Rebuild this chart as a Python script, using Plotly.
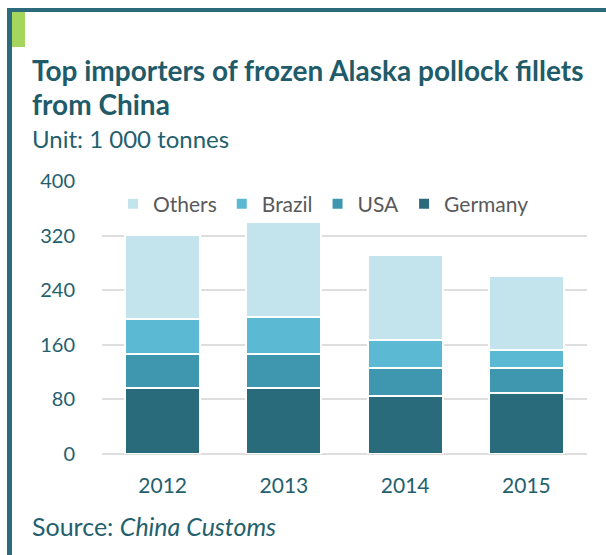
import plotly.graph_objects as go

# Imports of frozen Alaska pollock fillets from China, thousand tonnes
years = ["2012", "2013", "2014", "2015"]
germany = [97, 97, 85, 89]
usa = [50, 50, 41, 37]
brazil = [51, 54, 41, 27]
others = [123, 139, 124, 108]

y_ticks = [0, 80, 160, 240, 320, 400]

series = [
    ("Germany", germany, "#2a6b7b"),
    ("USA", usa, "#3e97ae"),
    ("Brazil", brazil, "#5cb9d3"),
    ("Others", others, "#c4e4ed"),
]

W, H = 606, 555
M_L, M_R, M_T, M_B = 102, 19, 181, 101
PW, PH = W - M_L - M_R, H - M_T - M_B


def px(x):
    return (x - M_L) / PW


def py(y):
    return (H - M_B - y) / PH


TEAL = "#245f6e"
FONT = "Lato"

fig = go.Figure()
for name, vals, color in series:
    fig.add_trace(go.Bar(
        x=years, y=vals, name=name,
        marker=dict(color=color, line=dict(color="white", width=2)),
    ))

fig.update_layout(
    width=W, height=H,
    margin=dict(l=M_L, r=M_R, t=M_T, b=M_B),
    barmode="stack", bargap=0.38,
    plot_bgcolor="white", paper_bgcolor="white",
    font=dict(family=FONT, color=TEAL, size=20),
    showlegend=True,
    legend=dict(
        orientation="h", traceorder="reversed",
        x=px(113), xanchor="left", y=py(204), yanchor="middle",
        font=dict(family=FONT, size=21, color="#595959"),
        bgcolor="rgba(0,0,0,0)", itemclick=False,
    ),
    xaxis=dict(
        showgrid=False, showline=False, ticks="",
        ticklabelstandoff=17,
        tickfont=dict(family=FONT, size=21, color=TEAL),
    ),
    yaxis=dict(
        range=[0, 400], tickvals=y_ticks,
        showgrid=True, gridcolor="#dedede", gridwidth=2,
        zeroline=True, zerolinecolor="#dedede", zerolinewidth=2,
        showline=False, ticks="", ticklabelstandoff=26,
        tickfont=dict(family=FONT, size=20, color=TEAL),
    ),
)

# Frame: top and left rules plus the green corner tab
fig.add_shape(type="rect", xref="paper", yref="paper",
              x0=px(7), x1=px(606), y0=py(12), y1=py(8),
              fillcolor="#2b6b7b", line_width=0, layer="above")
fig.add_shape(type="rect", xref="paper", yref="paper",
              x0=px(7), x1=px(12), y0=py(555), y1=py(8),
              fillcolor="#2b6b7b", line_width=0, layer="above")
fig.add_shape(type="rect", xref="paper", yref="paper",
              x0=px(12), x1=px(25), y0=py(47), y1=py(12),
              fillcolor="#a4d65e", line_width=0, layer="above")

# Two-line title, one annotation per line for tight leading
title_lines = ["Top importers of frozen Alaska pollock fillets", "from China"]
for i, line in enumerate(title_lines):
    fig.add_annotation(
        xref="paper", yref="paper", x=px(30), y=py(51 + 34 * i),
        xanchor="left", yanchor="top", showarrow=False,
        text=f"<b>{line}</b>",
        font=dict(family=FONT, size=28, color="#1f5b69"),
    )
fig.add_annotation(
    xref="paper", yref="paper", x=px(30), y=py(122),
    xanchor="left", yanchor="top", showarrow=False,
    text="Unit: 1 000 tonnes",
    font=dict(family=FONT, size=24, color=TEAL),
)
fig.add_annotation(
    xref="paper", yref="paper", x=px(30), y=py(509),
    xanchor="left", yanchor="top", showarrow=False,
    text="Source: <i>China Customs</i>",
    font=dict(family=FONT, size=25, color=TEAL),
)

fig.write_html("out.html")
